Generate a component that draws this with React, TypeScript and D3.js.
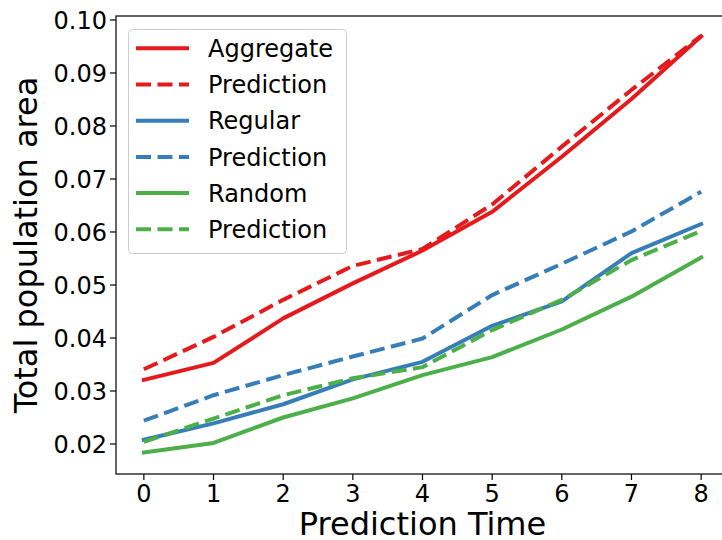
import { useEffect, useRef } from 'react';
import * as d3 from 'd3';

const steps = [0, 1, 2, 3, 4, 5, 6, 7, 8];
const yTicks = [0.02, 0.03, 0.04, 0.05, 0.06, 0.07, 0.08, 0.09, 0.1];

const aggregate = [0.0321, 0.0353, 0.0437, 0.0503, 0.0565, 0.0638, 0.0742, 0.0851, 0.0969];
const aggregatePred = [0.0341, 0.0402, 0.0472, 0.0536, 0.0568, 0.0652, 0.0761, 0.0868, 0.097];
const regular = [0.0208, 0.0239, 0.0275, 0.0322, 0.0355, 0.0423, 0.0469, 0.056, 0.0615];
const regularPred = [0.0244, 0.0292, 0.033, 0.0365, 0.0399, 0.0481, 0.054, 0.0601, 0.0676];
const random = [0.0184, 0.0202, 0.025, 0.0286, 0.033, 0.0364, 0.0416, 0.0478, 0.0552];
const randomPred = [0.0204, 0.0248, 0.0292, 0.0324, 0.0345, 0.0415, 0.0472, 0.0547, 0.0602];

const seriesNames = ['Aggregate', 'Prediction', 'Regular', 'Prediction', 'Random', 'Prediction'];
const seriesData = [aggregate, aggregatePred, regular, regularPred, random, randomPred];
const seriesColors = ['#e41a1c', '#e41a1c', '#377eb8', '#377eb8', '#4daf4a', '#4daf4a'];
const seriesDashed = [false, true, false, true, false, true];

const FONT = 'DejaVu Sans, sans-serif';

export default function App() {
  const svgRef = useRef<SVGSVGElement>(null);

  useEffect(() => {
    document.body.style.margin = '0';
    const svg = d3.select(svgRef.current);
    svg.selectAll('*').remove();

    const left = 116, right = 729, top = 16, bottom = 474;

    const x = d3.scaleLinear().domain([-0.4, 8.4]).range([left, right]);
    const y = d3.scaleLinear().domain([0.01434, 0.10075]).range([bottom, top]);

    // lines
    const line = d3.line<number>()
      .x((_, i) => x(steps[i]))
      .y(d => y(d));

    seriesData.forEach((vals, i) => {
      svg.append('path')
        .datum(vals)
        .attr('d', line)
        .attr('fill', 'none')
        .attr('stroke', seriesColors[i])
        .attr('stroke-width', 4)
        .attr('stroke-linejoin', 'round')
        .attr('stroke-linecap', seriesDashed[i] ? 'butt' : 'square')
        .attr('stroke-dasharray', seriesDashed[i] ? '15,6.5' : null);
    });

    // spines
    svg.append('rect')
      .attr('x', left)
      .attr('y', top)
      .attr('width', right - left)
      .attr('height', bottom - top)
      .attr('fill', 'none')
      .attr('stroke', '#000')
      .attr('stroke-width', 1.2);

    // x axis ticks
    const xt = svg.append('g');
    steps.forEach(s => {
      xt.append('line')
        .attr('x1', x(s)).attr('x2', x(s))
        .attr('y1', bottom).attr('y2', bottom + 6)
        .attr('stroke', '#000').attr('stroke-width', 1.2);
      xt.append('text')
        .attr('x', x(s))
        .attr('y', 502)
        .attr('text-anchor', 'middle')
        .style('font-family', FONT)
        .style('font-size', '24px')
        .text(String(s));
    });

    // y axis ticks
    const yt = svg.append('g');
    yTicks.forEach(v => {
      yt.append('line')
        .attr('x1', left - 6).attr('x2', left)
        .attr('y1', y(v)).attr('y2', y(v))
        .attr('stroke', '#000').attr('stroke-width', 1.2);
      yt.append('text')
        .attr('x', left - 9)
        .attr('y', y(v))
        .attr('dy', '0.36em')
        .attr('text-anchor', 'end')
        .style('font-family', FONT)
        .style('font-size', '24px')
        .text(v.toFixed(2));
    });

    // axis labels
    svg.append('text')
      .attr('x', (left + right) / 2)
      .attr('y', 535)
      .attr('text-anchor', 'middle')
      .style('font-family', FONT)
      .style('font-size', '32px')
      .text('Prediction Time');

    svg.append('text')
      .attr('transform', `translate(37,${(top + bottom) / 2}) rotate(-90)`)
      .attr('text-anchor', 'middle')
      .style('font-family', FONT)
      .style('font-size', '32px')
      .text('Total population area');

    // legend
    const lg = svg.append('g');
    lg.append('rect')
      .attr('x', 128.5)
      .attr('y', 29.5)
      .attr('width', 218)
      .attr('height', 224)
      .attr('rx', 4)
      .attr('fill', '#fff')
      .attr('fill-opacity', 0.8)
      .attr('stroke', '#cccccc')
      .attr('stroke-width', 1);

    seriesNames.forEach((name, i) => {
      const ry = 48.3 + i * 36.2;
      lg.append('line')
        .attr('x1', 136).attr('x2', 189)
        .attr('y1', ry).attr('y2', ry)
        .attr('stroke', seriesColors[i])
        .attr('stroke-width', 4)
        .attr('stroke-dasharray', seriesDashed[i] ? '15,6.5' : null);
      lg.append('text')
        .attr('x', 208)
        .attr('y', ry)
        .attr('dy', '0.36em')
        .style('font-family', FONT)
        .style('font-size', '24px')
        .text(name);
    });
  }, []);

  return <svg ref={svgRef} width={722} height={540} style={{ display: 'block' }} />;
}
